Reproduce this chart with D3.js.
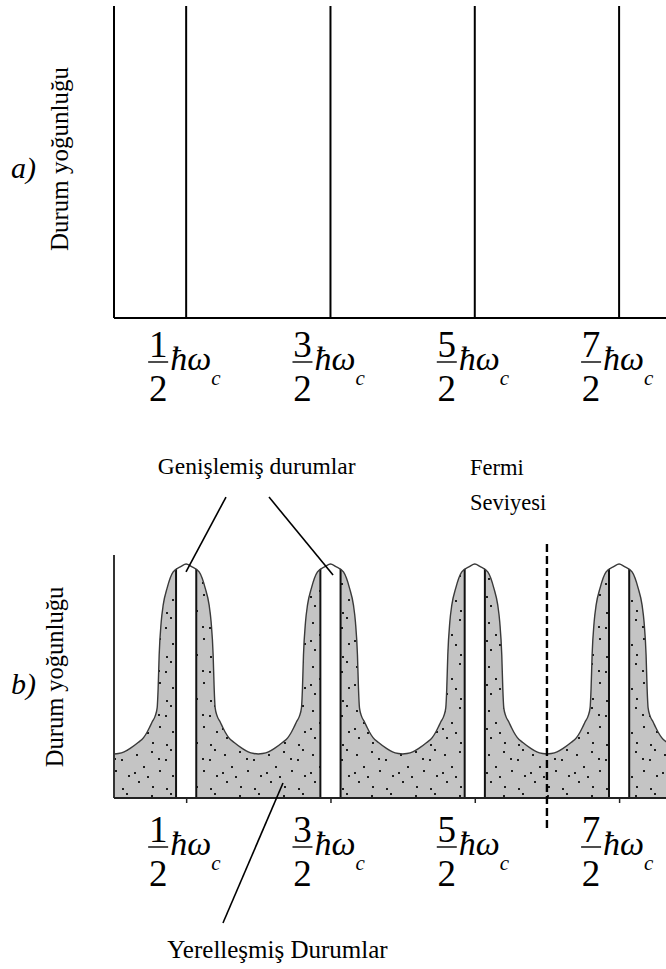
<!DOCTYPE html>
<html>
<head>
<meta charset="utf-8">
<script src="https://cdn.jsdelivr.net/npm/d3@7"></script>
<style>
  html, body { margin: 0; padding: 0; background: #fff; }
  svg { display: block; }
</style>
</head>
<body>
<div id="chart"></div>
<script>
// Landau levels, in units of hbar*omega_c
const LEVELS = [0.5, 1.5, 2.5, 3.5];
const LEVEL_NUMERATORS = ["1", "3", "5", "7"];
const E_MAX = 3.825;
const FERMI_E = 3.0;
const MOBILITY_HALF = 0.07;

// broadened peak shape: offset from level centre, density (peak = 1)
const PROFILE_DX = [0, 0.035, 0.09, 0.132, 0.159, 0.173, 0.187, 0.194, 0.201, 0.215, 0.236, 0.255, 0.27, 0.295, 0.333, 0.388, 0.43, 0.47, 0.5];
const PROFILE_H  = [1.0, 0.99, 0.966, 0.897, 0.825, 0.752, 0.611, 0.47, 0.385, 0.35, 0.325, 0.3, 0.282, 0.258, 0.237, 0.212, 0.197, 0.19, 0.188];

const Y_LABEL = "Durum yoğunluğu";

const W = 666, H = 969;
const FONT = "'Liberation Serif', 'Times New Roman', serif";

const svg = d3.select("#chart").append("svg")
  .attr("width", W)
  .attr("height", H);

const x = d3.scaleLinear().domain([0, E_MAX]).range([114, 666]);
const yTop = d3.scaleLinear().domain([0, 1]).range([318, 6]);
const yBot = d3.scaleLinear().domain([0, 1]).range([798, 564]);

// stipple texture for the localized states
const defs = svg.append("defs");
const pat = defs.append("pattern")
  .attr("id", "stipple")
  .attr("patternUnits", "userSpaceOnUse")
  .attr("width", 44).attr("height", 44);
pat.append("rect").attr("width", 44).attr("height", 44).attr("fill", "#c4c4c4");
[[4, 6], [19, 3], [33, 11], [11, 18], [27, 22], [40, 27], [6, 33], [20, 38], [34, 40], [15, 28], [38, 1], [26, 10], [2, 24]]
  .forEach(([px, py]) => {
    pat.append("rect")
      .attr("x", px).attr("y", py)
      .attr("width", 2).attr("height", 2)
      .attr("fill", "#1e1e1e");
  });

function level(g, cx, axisY, num, barOff) {
  const fx = cx - 28;
  const by = axisY + barOff;
  g.append("line")
    .attr("x1", fx - 10).attr("x2", fx + 10)
    .attr("y1", by).attr("y2", by)
    .attr("stroke", "#000").attr("stroke-width", 1.4);
  g.append("text")
    .attr("x", fx).attr("y", by - 5)
    .attr("text-anchor", "middle")
    .attr("font-family", FONT).attr("font-size", 37)
    .text(num);
  g.append("text")
    .attr("x", fx).attr("y", by + 39)
    .attr("text-anchor", "middle")
    .attr("font-family", FONT).attr("font-size", 37)
    .text("2");
  const t = g.append("text")
    .attr("x", cx - 16).attr("y", by + 8)
    .attr("font-family", FONT).attr("font-style", "italic")
    .attr("font-size", 34);
  t.append("tspan").text("ħω");
  t.append("tspan").attr("dy", 15).attr("font-size", 21).text("c");
}

function sideLabels(tag, tagBaseline, labelX, labelCy, size) {
  svg.append("text")
    .attr("x", 11).attr("y", tagBaseline)
    .attr("font-family", FONT).attr("font-style", "italic")
    .attr("font-size", 30)
    .text(tag);
  svg.append("text")
    .attr("transform", `translate(${labelX},${labelCy}) rotate(-90)`)
    .attr("text-anchor", "middle")
    .attr("font-family", FONT).attr("font-size", size)
    .text(Y_LABEL);
}

// ---------- a) ideal Landau levels ----------
const gA = svg.append("g");
sideLabels("a)", 178, 68, 159, 25);

gA.selectAll(".delta")
  .data(LEVELS)
  .join("line")
  .attr("x1", d => x(d)).attr("x2", d => x(d))
  .attr("y1", yTop(0)).attr("y2", yTop(1))
  .attr("stroke", "#000").attr("stroke-width", 2);

gA.append("line")
  .attr("x1", x(0)).attr("x2", x(0))
  .attr("y1", yTop(0)).attr("y2", yTop(1))
  .attr("stroke", "#000").attr("stroke-width", 2);
gA.append("line")
  .attr("x1", x(0)).attr("x2", W)
  .attr("y1", yTop(0)).attr("y2", yTop(0))
  .attr("stroke", "#000").attr("stroke-width", 2);

LEVELS.forEach((d, i) => level(gA, x(d), yTop(0), LEVEL_NUMERATORS[i], 44));

// ---------- b) broadened levels ----------
const gB = svg.append("g");
sideLabels("b)", 694, 63, 677, 24.5);

const dos = [];
LEVELS.forEach(c => {
  for (let i = PROFILE_DX.length - 1; i > 0; i--) dos.push([c - PROFILE_DX[i], PROFILE_H[i]]);
  for (let i = 0; i < PROFILE_DX.length; i++) dos.push([c + PROFILE_DX[i], PROFILE_H[i]]);
});

const area = d3.area()
  .x(d => x(d[0]))
  .y0(yBot(0))
  .y1(d => yBot(d[1]))
  .curve(d3.curveMonotoneX);
const line = d3.line()
  .x(d => x(d[0]))
  .y(d => yBot(d[1]))
  .curve(d3.curveMonotoneX);

defs.append("clipPath").attr("id", "dosClip")
  .append("path").attr("d", area(dos));

gB.append("path")
  .attr("d", area(dos))
  .attr("fill", "url(#stipple)");

const stripes = gB.append("g").attr("clip-path", "url(#dosClip)");
stripes.selectAll("rect")
  .data(LEVELS)
  .join("rect")
  .attr("x", d => x(d - MOBILITY_HALF))
  .attr("width", d => x(d + MOBILITY_HALF) - x(d - MOBILITY_HALF))
  .attr("y", yBot(1.05))
  .attr("height", yBot(0) - yBot(1.05))
  .attr("fill", "#fff");
stripes.selectAll(".edge")
  .data(LEVELS.flatMap(d => [d - MOBILITY_HALF, d + MOBILITY_HALF]))
  .join("line")
  .attr("class", "edge")
  .attr("x1", d => x(d)).attr("x2", d => x(d))
  .attr("y1", yBot(0)).attr("y2", yBot(1.05))
  .attr("stroke", "#111").attr("stroke-width", 2);

gB.append("path")
  .attr("d", line(dos))
  .attr("fill", "none")
  .attr("stroke", "#3a3a3a")
  .attr("stroke-width", 1.4);

// axes
const axis = d3.axisBottom(x)
  .tickValues(LEVELS)
  .tickSize(5)
  .tickSizeOuter(0)
  .tickFormat("");
const axG = gB.append("g")
  .attr("transform", `translate(0,${yBot(0)})`)
  .call(axis);
axG.select(".domain").remove();
axG.selectAll(".tick line").attr("stroke", "#222").attr("stroke-width", 1.5);

gB.append("line")
  .attr("x1", x(0)).attr("x2", x(0))
  .attr("y1", yBot(0)).attr("y2", yBot(1.038))
  .attr("stroke", "#333").attr("stroke-width", 2);
gB.append("line")
  .attr("x1", x(0)).attr("x2", W)
  .attr("y1", yBot(0)).attr("y2", yBot(0))
  .attr("stroke", "#222").attr("stroke-width", 2);

LEVELS.forEach((d, i) => level(gB, x(d), yBot(0), LEVEL_NUMERATORS[i], 49));

// Fermi level
gB.append("line")
  .attr("x1", x(FERMI_E)).attr("x2", x(FERMI_E))
  .attr("y1", yBot(1.085)).attr("y2", yBot(-0.145))
  .attr("stroke", "#000").attr("stroke-width", 2.4)
  .attr("stroke-dasharray", "8,4");

// annotations (energy, density)
const LEADERS = [
  [[0.776, 1.286], [0.499, 0.966]],
  [[1.074, 1.286], [1.518, 0.953]],
  [[1.171, 0.064], [0.755, -0.534]]
];
gB.selectAll(".leader")
  .data(LEADERS)
  .join("line")
  .attr("x1", d => x(d[0][0])).attr("y1", d => yBot(d[0][1]))
  .attr("x2", d => x(d[1][0])).attr("y2", d => yBot(d[1][1]))
  .attr("stroke", "#000").attr("stroke-width", 1.6);

gB.append("text")
  .attr("x", x(0.989)).attr("y", yBot(1.385))
  .attr("text-anchor", "middle")
  .attr("font-family", FONT).attr("font-size", 23.5)
  .text("Genişlemiş durumlar");
gB.append("text")
  .attr("x", x(2.467)).attr("y", yBot(1.38))
  .attr("font-family", FONT).attr("font-size", 22.5)
  .text("Fermi");
gB.append("text")
  .attr("x", x(2.467)).attr("y", yBot(1.231))
  .attr("font-family", FONT).attr("font-size", 22.5)
  .text("Seviyesi");
gB.append("text")
  .attr("x", x(1.133)).attr("y", yBot(-0.684))
  .attr("text-anchor", "middle")
  .attr("font-family", FONT).attr("font-size", 25)
  .text("Yerelleşmiş Durumlar");
</script>
</body>
</html>
